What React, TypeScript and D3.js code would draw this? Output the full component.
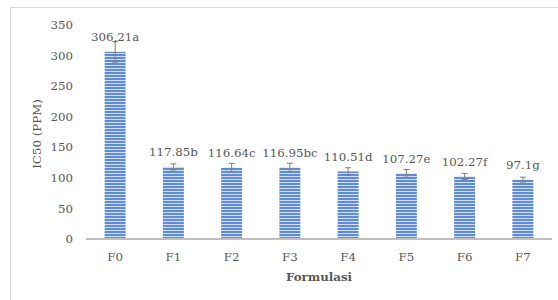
import React from "react";
import * as d3 from "d3";

const categories = ["F0", "F1", "F2", "F3", "F4", "F5", "F6", "F7"];
const values = [306.21, 117.85, 116.64, 116.95, 110.51, 107.27, 102.27, 97.1];
const errors = [17, 5, 7, 7, 6, 6.5, 5, 4];
const labels = ["306,21a", "117.85b", "116.64c", "116.95bc", "110.51d", "107.27e", "102.27f", "97.1g"];
const yTicks = [0, 50, 100, 150, 200, 250, 300, 350];

const W = 558;
const H = 300;
const plotLeft = 86;
const plotRight = 552;
const y0 = 239;
const yTop = 25;

export default function App() {
  const x = d3.scaleBand<string>().domain(categories).range([plotLeft, plotRight]).paddingInner(0.64).paddingOuter(0.32);
  const y = d3.scaleLinear().domain([0, 350]).range([y0, yTop]);
  const font = "'DejaVu Serif', serif";
  const txt = "#595959";
  const fs = 11.8;
  return (
    <svg width={W} height={H} style={{ position: "absolute", left: 0, top: 0, background: "#fff" }}>
      <defs>
        <pattern id="stripes" width="4" height="3" patternUnits="userSpaceOnUse">
          <rect width="4" height="3" fill="#d2def2" />
          <rect width="4" height="2" fill="#5f8dd0" />
        </pattern>
      </defs>
      <rect x={10.5} y={7.5} width={W} height={H} fill="none" stroke="#d9d9d9" strokeWidth={1} />
      {yTicks.map((t) => (
        <text key={t} x={73} y={y(t)} dy="0.35em" textAnchor="end" fontFamily={font} fontSize={fs} fill={txt}>
          {t}
        </text>
      ))}
      {categories.map((c, i) => {
        const bx = x(c)!;
        const bw = x.bandwidth();
        const cx = bx + bw / 2;
        return (
          <g key={c}>
            <rect x={bx} y={y(values[i])} width={bw} height={y0 - y(values[i])} fill="url(#stripes)" />
            <line x1={cx} x2={cx} y1={y(values[i] + errors[i])} y2={y(values[i] - errors[i])} stroke="#7f7f7f" strokeWidth={1} />
            <line x1={cx - 3} x2={cx + 3} y1={y(values[i] + errors[i])} y2={y(values[i] + errors[i])} stroke="#7f7f7f" strokeWidth={1} />
            <line x1={cx - 3} x2={cx + 3} y1={y(values[i] - errors[i])} y2={y(values[i] - errors[i])} stroke="#7f7f7f" strokeWidth={1} />
            <text x={cx} y={y(values[i]) - 15} dy="0.35em" textAnchor="middle" fontFamily={font} fontSize={fs} fill={txt}>
              {labels[i]}
            </text>
            <text x={cx} y={257} dy="0.35em" textAnchor="middle" fontFamily={font} fontSize={fs} fill={txt}>
              {c}
            </text>
          </g>
        );
      })}
      <line x1={plotLeft} x2={plotRight} y1={y0} y2={y0} stroke="#bfbfbf" strokeWidth={2} />
      <text x={(plotLeft + plotRight) / 2} y={277} dy="0.35em" textAnchor="middle" fontFamily={font} fontWeight="bold" fontSize={fs} fill={txt}>
        Formulasi
      </text>
      <text transform={`translate(37,134) rotate(-90)`} dy="0.35em" textAnchor="middle" fontFamily={font} fontSize={fs} fill={txt}>
        IC50 (PPM)
      </text>
    </svg>
  );
}
